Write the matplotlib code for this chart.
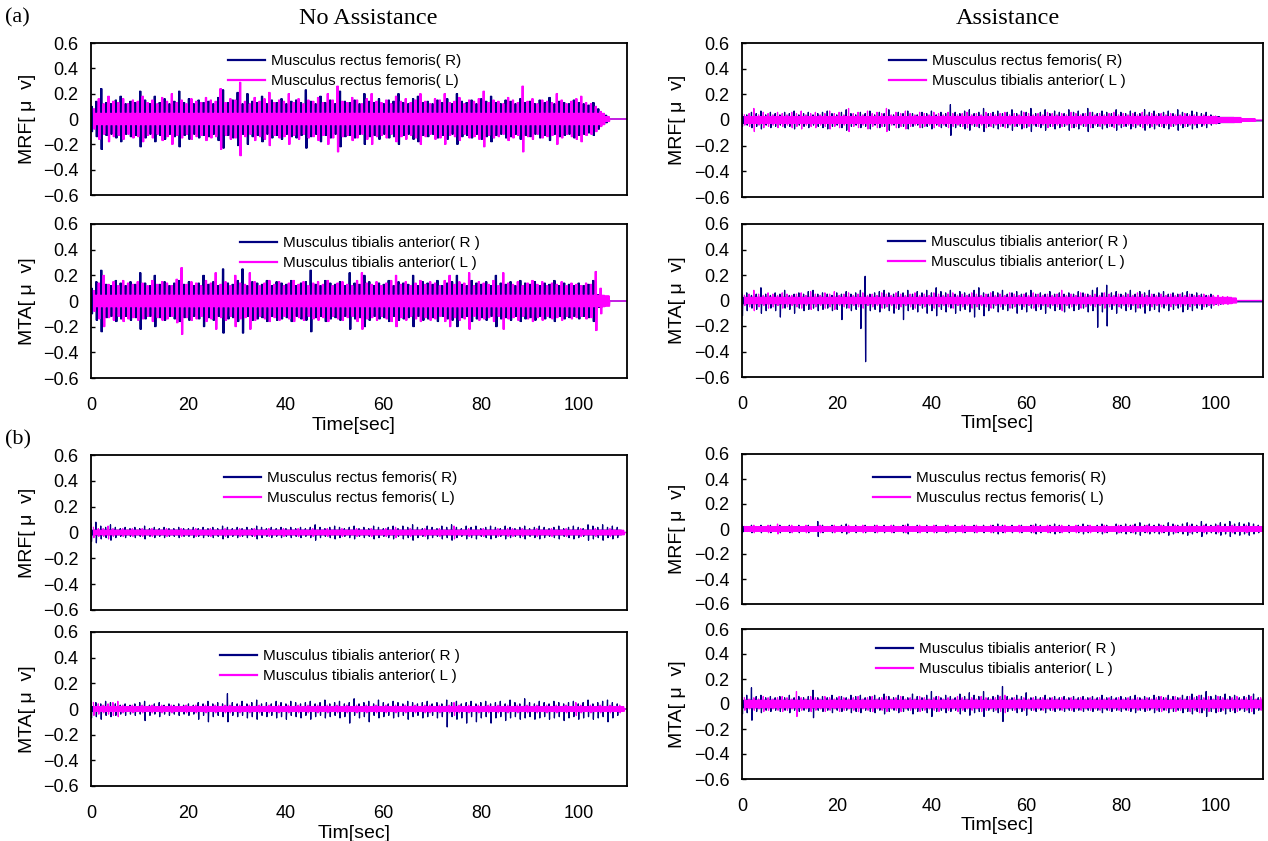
import numpy as np
import matplotlib
matplotlib.use("Agg")
import matplotlib.pyplot as plt
from matplotlib.lines import Line2D

plt.rcParams.update({
    "font.family": "sans-serif",
    "font.sans-serif": ["Liberation Sans", "DejaVu Sans"],
    "axes.linewidth": 1.3,
    "axes.unicode_minus": True,
})

W, H = 1268, 841
NAVY = "#000080"
MAGENTA = "#FF00FF"
T_MAX = 110

# ============ data: burst peak per second [uV] ============
# (a) No Assistance
mrf_r_noassist = [
    0.10, 0.14, 0.24, 0.13, 0.12, 0.15, 0.18, 0.12, 0.14, 0.13,
    0.22, 0.15, 0.12, 0.18, 0.13, 0.16, 0.12, 0.14, 0.22, 0.13,
    0.16, 0.12, 0.15, 0.13, 0.14, 0.12, 0.17, 0.23, 0.13, 0.15,
    0.21, 0.12, 0.20, 0.14, 0.13, 0.18, 0.12, 0.15, 0.13, 0.16,
    0.12, 0.14, 0.15, 0.13, 0.23, 0.14, 0.12, 0.18, 0.13, 0.15,
    0.12, 0.22, 0.14, 0.13, 0.15, 0.12, 0.20, 0.14, 0.13, 0.16,
    0.12, 0.15, 0.14, 0.20, 0.13, 0.12, 0.16, 0.18, 0.13, 0.14,
    0.12, 0.15, 0.13, 0.16, 0.12, 0.20, 0.14, 0.13, 0.15, 0.12,
    0.16, 0.14, 0.18, 0.13, 0.12, 0.15, 0.14, 0.12, 0.16, 0.13,
    0.14, 0.12, 0.15, 0.13, 0.17, 0.12, 0.14, 0.13, 0.12, 0.15,
    0.13, 0.12, 0.11, 0.13, 0.08, 0.03,
]
mrf_l_noassist = [
    0.08, 0.16, 0.12, 0.18, 0.14, 0.13, 0.16, 0.12, 0.15, 0.14,
    0.18, 0.13, 0.15, 0.12, 0.17, 0.14, 0.20, 0.13, 0.15, 0.12,
    0.16, 0.14, 0.13, 0.17, 0.15, 0.14, 0.24, 0.13, 0.16, 0.15,
    0.29, 0.14, 0.12, 0.17, 0.14, 0.16, 0.21, 0.13, 0.15, 0.14,
    0.20, 0.13, 0.16, 0.12, 0.15, 0.14, 0.17, 0.13, 0.20, 0.15,
    0.26, 0.14, 0.13, 0.17, 0.15, 0.12, 0.16, 0.20, 0.14, 0.13,
    0.15, 0.12, 0.18, 0.14, 0.16, 0.13, 0.15, 0.20, 0.14, 0.12,
    0.16, 0.15, 0.20, 0.13, 0.14, 0.17, 0.12, 0.15, 0.14, 0.16,
    0.22, 0.13, 0.15, 0.14, 0.12, 0.17, 0.15, 0.13, 0.26, 0.14,
    0.16, 0.12, 0.15, 0.14, 0.13, 0.20, 0.15, 0.12, 0.14, 0.16,
    0.18, 0.13, 0.12, 0.10, 0.06, 0.02,
]
mta_r_noassist = [
    0.10, 0.15, 0.24, 0.13, 0.12, 0.16, 0.14, 0.12, 0.15, 0.13,
    0.22, 0.14, 0.12, 0.20, 0.13, 0.15, 0.12, 0.14, 0.16, 0.13,
    0.15, 0.12, 0.14, 0.20, 0.13, 0.15, 0.12, 0.25, 0.14, 0.13,
    0.16, 0.25, 0.12, 0.15, 0.14, 0.13, 0.16, 0.12, 0.15, 0.14,
    0.13, 0.16, 0.12, 0.14, 0.15, 0.24, 0.13, 0.12, 0.16, 0.14,
    0.13, 0.15, 0.12, 0.22, 0.14, 0.13, 0.20, 0.15, 0.12, 0.14,
    0.13, 0.16, 0.12, 0.15, 0.14, 0.13, 0.20, 0.12, 0.15, 0.14,
    0.13, 0.16, 0.12, 0.14, 0.15, 0.20, 0.13, 0.12, 0.16, 0.14,
    0.13, 0.15, 0.12, 0.20, 0.14, 0.13, 0.15, 0.12, 0.16, 0.14,
    0.13, 0.15, 0.12, 0.14, 0.13, 0.16, 0.12, 0.14, 0.13, 0.12,
    0.14, 0.12, 0.13, 0.16, 0.05, 0.02,
]
mta_l_noassist = [
    0.08, 0.14, 0.20, 0.13, 0.15, 0.12, 0.16, 0.14, 0.13, 0.15,
    0.14, 0.12, 0.16, 0.13, 0.15, 0.14, 0.12, 0.17, 0.26, 0.13,
    0.15, 0.14, 0.12, 0.16, 0.14, 0.22, 0.13, 0.15, 0.12, 0.20,
    0.14, 0.13, 0.22, 0.15, 0.12, 0.14, 0.16, 0.13, 0.15, 0.12,
    0.14, 0.16, 0.13, 0.15, 0.12, 0.14, 0.15, 0.13, 0.16, 0.12,
    0.14, 0.15, 0.13, 0.12, 0.16, 0.22, 0.14, 0.13, 0.15, 0.12,
    0.14, 0.16, 0.20, 0.13, 0.15, 0.12, 0.14, 0.16, 0.13, 0.15,
    0.14, 0.12, 0.16, 0.20, 0.13, 0.15, 0.14, 0.22, 0.12, 0.15,
    0.14, 0.13, 0.16, 0.12, 0.22, 0.14, 0.13, 0.15, 0.12, 0.14,
    0.16, 0.13, 0.15, 0.12, 0.14, 0.13, 0.15, 0.12, 0.14, 0.13,
    0.12, 0.14, 0.13, 0.23, 0.10, 0.04,
]

# (a) Assistance
mrf_r_assist = [
    0.05, 0.04, 0.06, 0.05, 0.07, 0.04, 0.06, 0.05, 0.04, 0.06,
    0.05, 0.07, 0.04, 0.05, 0.06, 0.04, 0.05, 0.06, 0.07, 0.05,
    0.04, 0.06, 0.08, 0.05, 0.04, 0.06, 0.05, 0.07, 0.04, 0.06,
    0.05, 0.08, 0.04, 0.06, 0.05, 0.07, 0.05, 0.04, 0.06, 0.05,
    0.07, 0.04, 0.06, 0.05, 0.12, 0.06, 0.05, 0.07, 0.08, 0.05,
    0.06, 0.09, 0.05, 0.06, 0.07, 0.05, 0.06, 0.08, 0.05, 0.07,
    0.06, 0.09, 0.05, 0.06, 0.08, 0.05, 0.07, 0.06, 0.05, 0.08,
    0.06, 0.07, 0.05, 0.09, 0.06, 0.05, 0.07, 0.06, 0.05, 0.08,
    0.06, 0.05, 0.07, 0.06, 0.05, 0.08, 0.06, 0.07, 0.05, 0.06,
    0.07, 0.05, 0.08, 0.06, 0.05, 0.07, 0.06, 0.05, 0.06, 0.04,
    0.03, 0.02, 0.02, 0.02, 0.01, 0.01, 0.01, 0.01,
]
mrf_l_assist = [
    0.04, 0.05, 0.09, 0.04, 0.06, 0.05, 0.04, 0.06, 0.05, 0.04,
    0.06, 0.05, 0.07, 0.04, 0.05, 0.06, 0.04, 0.05, 0.07, 0.05,
    0.06, 0.04, 0.09, 0.05, 0.06, 0.04, 0.07, 0.05, 0.06, 0.05,
    0.09, 0.04, 0.06, 0.05, 0.07, 0.05, 0.04, 0.06, 0.05, 0.04,
    0.06, 0.05, 0.04, 0.06, 0.05, 0.04, 0.05, 0.06, 0.04, 0.05,
    0.04, 0.06, 0.05, 0.04, 0.05, 0.06, 0.04, 0.05, 0.04, 0.06,
    0.05, 0.04, 0.05, 0.04, 0.06, 0.05, 0.04, 0.05, 0.04, 0.06,
    0.05, 0.04, 0.05, 0.06, 0.04, 0.05, 0.04, 0.05, 0.06, 0.04,
    0.05, 0.04, 0.05, 0.04, 0.06, 0.04, 0.05, 0.04, 0.05, 0.04,
    0.05, 0.04, 0.04, 0.05, 0.04, 0.04, 0.03, 0.04, 0.03, 0.03,
    0.02, 0.02, 0.02, 0.02, 0.02, 0.01, 0.01, 0.01,
]
mta_r_assist_up = [
    0.05, 0.06, 0.04, 0.05, 0.10, 0.05, 0.04, 0.06, 0.05, 0.08,
    0.04, 0.05, 0.06, 0.05, 0.07, 0.08, 0.05, 0.06, 0.05, 0.04,
    0.06, 0.05, 0.07, 0.05, 0.06, 0.08, 0.19, 0.05, 0.06, 0.07,
    0.08, 0.06, 0.05, 0.07, 0.06, 0.08, 0.05, 0.07, 0.06, 0.08,
    0.06, 0.10, 0.07, 0.06, 0.08, 0.05, 0.07, 0.06, 0.05, 0.08,
    0.10, 0.06, 0.05, 0.07, 0.06, 0.08, 0.05, 0.06, 0.07, 0.05,
    0.06, 0.08, 0.05, 0.06, 0.05, 0.07, 0.05, 0.06, 0.05, 0.06,
    0.05, 0.07, 0.06, 0.05, 0.08, 0.10, 0.06, 0.12, 0.06, 0.07,
    0.05, 0.06, 0.08, 0.05, 0.07, 0.06, 0.08, 0.05, 0.06, 0.07,
    0.05, 0.06, 0.05, 0.06, 0.07, 0.05, 0.06, 0.05, 0.04, 0.05,
    0.02, 0.02,
]
mta_r_assist_dn = [
    0.12, 0.08, 0.06, 0.07, 0.10, 0.08, 0.06, 0.08, 0.13, 0.06,
    0.07, 0.10, 0.06, 0.08, 0.07, 0.06, 0.08, 0.07, 0.06, 0.08,
    0.07, 0.15, 0.06, 0.08, 0.07, 0.22, 0.48, 0.08, 0.07, 0.09,
    0.06, 0.08, 0.10, 0.07, 0.15, 0.08, 0.07, 0.09, 0.06, 0.10,
    0.08, 0.12, 0.07, 0.09, 0.06, 0.10, 0.08, 0.07, 0.09, 0.13,
    0.07, 0.12, 0.08, 0.06, 0.09, 0.07, 0.08, 0.06, 0.10, 0.07,
    0.09, 0.06, 0.08, 0.07, 0.10, 0.06, 0.08, 0.07, 0.09, 0.06,
    0.08, 0.07, 0.06, 0.09, 0.08, 0.21, 0.09, 0.20, 0.07, 0.10,
    0.06, 0.08, 0.07, 0.09, 0.06, 0.10, 0.08, 0.07, 0.09, 0.06,
    0.08, 0.07, 0.06, 0.09, 0.07, 0.08, 0.06, 0.07, 0.05, 0.06,
    0.03, 0.03,
]
mta_l_assist = [
    0.04, 0.05, 0.08, 0.05, 0.04, 0.06, 0.05, 0.04, 0.06, 0.05,
    0.04, 0.05, 0.06, 0.04, 0.07, 0.05, 0.04, 0.06, 0.05, 0.07,
    0.04, 0.05, 0.06, 0.04, 0.05, 0.06, 0.04, 0.05, 0.04, 0.06,
    0.05, 0.04, 0.06, 0.05, 0.04, 0.05, 0.06, 0.04, 0.05, 0.04,
    0.06, 0.05, 0.04, 0.05, 0.06, 0.04, 0.05, 0.04, 0.06, 0.05,
    0.04, 0.05, 0.06, 0.04, 0.05, 0.04, 0.06, 0.05, 0.04, 0.05,
    0.04, 0.06, 0.05, 0.04, 0.05, 0.04, 0.05, 0.08, 0.04, 0.05,
    0.04, 0.06, 0.05, 0.04, 0.05, 0.04, 0.06, 0.05, 0.04, 0.05,
    0.04, 0.05, 0.04, 0.06, 0.05, 0.04, 0.05, 0.04, 0.05, 0.04,
    0.05, 0.04, 0.05, 0.04, 0.05, 0.04, 0.04, 0.05, 0.04, 0.04,
    0.04, 0.03, 0.03, 0.02,
]

# (b) No Assistance
mrf_r_noassist_b = [
    0.07, 0.08, 0.05, 0.04, 0.06, 0.04, 0.03, 0.04, 0.03, 0.04,
    0.03, 0.05, 0.03, 0.04, 0.03, 0.04, 0.03, 0.03, 0.04, 0.03,
    0.03, 0.04, 0.03, 0.04, 0.03, 0.04, 0.03, 0.05, 0.04, 0.03,
    0.04, 0.03, 0.04, 0.03, 0.05, 0.04, 0.03, 0.04, 0.03, 0.04,
    0.03, 0.04, 0.03, 0.04, 0.03, 0.04, 0.06, 0.04, 0.03, 0.04,
    0.05, 0.04, 0.03, 0.04, 0.05, 0.03, 0.04, 0.03, 0.05, 0.04,
    0.03, 0.04, 0.05, 0.03, 0.05, 0.04, 0.06, 0.04, 0.03, 0.05,
    0.04, 0.03, 0.05, 0.04, 0.06, 0.04, 0.03, 0.05, 0.04, 0.05,
    0.03, 0.04, 0.05, 0.04, 0.03, 0.05, 0.04, 0.03, 0.04, 0.05,
    0.03, 0.04, 0.05, 0.04, 0.03, 0.04, 0.05, 0.03, 0.04, 0.05,
    0.04, 0.03, 0.06, 0.05, 0.04, 0.06, 0.04, 0.05, 0.04,
]
mrf_l_noassist_b = [
    0.04, 0.03, 0.03, 0.05, 0.03, 0.02, 0.03, 0.02, 0.03, 0.02,
    0.03, 0.02, 0.03, 0.02, 0.02, 0.03, 0.02, 0.02, 0.03, 0.02,
    0.02, 0.03, 0.02, 0.02, 0.03, 0.02, 0.02, 0.03, 0.02, 0.02,
    0.03, 0.02, 0.02, 0.03, 0.02, 0.02, 0.03, 0.02, 0.02, 0.03,
    0.02, 0.02, 0.03, 0.02, 0.02, 0.03, 0.02, 0.02, 0.03, 0.02,
    0.02, 0.03, 0.02, 0.02, 0.03, 0.02, 0.02, 0.03, 0.02, 0.02,
    0.03, 0.02, 0.04, 0.02, 0.02, 0.03, 0.02, 0.02, 0.03, 0.02,
    0.02, 0.03, 0.02, 0.02, 0.05, 0.02, 0.02, 0.03, 0.02, 0.02,
    0.03, 0.02, 0.02, 0.03, 0.02, 0.03, 0.03, 0.02, 0.03, 0.02,
    0.02, 0.03, 0.02, 0.02, 0.03, 0.02, 0.02, 0.03, 0.02, 0.02,
    0.03, 0.02, 0.02, 0.03, 0.02, 0.02, 0.03, 0.02, 0.02,
]
mta_r_noassist_b_up = [
    0.06, 0.05, 0.04, 0.06, 0.05, 0.04, 0.03, 0.04, 0.03, 0.04,
    0.05, 0.06, 0.03, 0.04, 0.05, 0.03, 0.04, 0.03, 0.04, 0.03,
    0.04, 0.03, 0.05, 0.04, 0.06, 0.04, 0.05, 0.04, 0.12, 0.05,
    0.04, 0.06, 0.04, 0.05, 0.07, 0.04, 0.05, 0.04, 0.06, 0.05,
    0.04, 0.06, 0.05, 0.04, 0.05, 0.06, 0.04, 0.05, 0.07, 0.04,
    0.05, 0.06, 0.04, 0.05, 0.08, 0.04, 0.05, 0.06, 0.04, 0.07,
    0.05, 0.04, 0.06, 0.05, 0.04, 0.06, 0.05, 0.04, 0.05, 0.06,
    0.04, 0.05, 0.04, 0.07, 0.05, 0.06, 0.04, 0.05, 0.06, 0.04,
    0.05, 0.06, 0.04, 0.05, 0.06, 0.04, 0.07, 0.05, 0.04, 0.08,
    0.05, 0.04, 0.06, 0.05, 0.04, 0.06, 0.05, 0.04, 0.05, 0.06,
    0.04, 0.05, 0.07, 0.04, 0.05, 0.06, 0.07, 0.05, 0.04,
]
mta_r_noassist_b_dn = [
    0.07, 0.06, 0.08, 0.05, 0.06, 0.05, 0.04, 0.05, 0.04, 0.05,
    0.04, 0.09, 0.05, 0.04, 0.06, 0.04, 0.05, 0.04, 0.05, 0.04,
    0.05, 0.04, 0.08, 0.05, 0.10, 0.06, 0.05, 0.06, 0.10, 0.05,
    0.06, 0.05, 0.07, 0.06, 0.08, 0.05, 0.06, 0.05, 0.07, 0.06,
    0.08, 0.05, 0.06, 0.07, 0.05, 0.08, 0.06, 0.05, 0.07, 0.06,
    0.05, 0.07, 0.06, 0.11, 0.05, 0.07, 0.06, 0.10, 0.05, 0.07,
    0.06, 0.05, 0.07, 0.06, 0.05, 0.08, 0.06, 0.05, 0.07, 0.06,
    0.05, 0.07, 0.06, 0.14, 0.06, 0.08, 0.07, 0.11, 0.06, 0.10,
    0.07, 0.06, 0.11, 0.07, 0.06, 0.09, 0.07, 0.06, 0.08, 0.07,
    0.06, 0.08, 0.07, 0.06, 0.08, 0.07, 0.06, 0.09, 0.07, 0.06,
    0.08, 0.07, 0.06, 0.08, 0.07, 0.06, 0.10, 0.07, 0.05,
]
mta_l_noassist_b = [
    0.05, 0.04, 0.03, 0.04, 0.05, 0.06, 0.03, 0.02, 0.03, 0.02,
    0.03, 0.02, 0.03, 0.02, 0.03, 0.02, 0.03, 0.02, 0.02, 0.03,
    0.02, 0.03, 0.02, 0.03, 0.02, 0.03, 0.02, 0.03, 0.03, 0.02,
    0.03, 0.02, 0.03, 0.02, 0.03, 0.02, 0.03, 0.02, 0.03, 0.02,
    0.03, 0.02, 0.03, 0.02, 0.03, 0.02, 0.03, 0.02, 0.03, 0.02,
    0.03, 0.02, 0.03, 0.02, 0.03, 0.02, 0.03, 0.02, 0.03, 0.02,
    0.03, 0.02, 0.03, 0.02, 0.03, 0.02, 0.03, 0.02, 0.03, 0.03,
    0.02, 0.03, 0.02, 0.03, 0.05, 0.03, 0.02, 0.03, 0.02, 0.03,
    0.02, 0.03, 0.02, 0.03, 0.02, 0.03, 0.02, 0.03, 0.02, 0.03,
    0.02, 0.03, 0.02, 0.03, 0.02, 0.03, 0.02, 0.03, 0.02, 0.05,
    0.03, 0.02, 0.03, 0.02, 0.03, 0.02, 0.03, 0.02, 0.03,
]

# (b) Assistance
mrf_r_assist_b = [
    0.03, 0.02, 0.03, 0.02, 0.03, 0.02, 0.03, 0.02, 0.03, 0.02,
    0.03, 0.02, 0.03, 0.02, 0.03, 0.02, 0.06, 0.03, 0.02, 0.03,
    0.02, 0.03, 0.04, 0.02, 0.03, 0.02, 0.03, 0.02, 0.03, 0.02,
    0.03, 0.02, 0.03, 0.02, 0.03, 0.04, 0.02, 0.03, 0.02, 0.03,
    0.02, 0.03, 0.02, 0.03, 0.02, 0.03, 0.02, 0.03, 0.02, 0.03,
    0.02, 0.03, 0.02, 0.03, 0.04, 0.03, 0.02, 0.03, 0.02, 0.03,
    0.02, 0.03, 0.04, 0.03, 0.02, 0.03, 0.04, 0.03, 0.02, 0.03,
    0.02, 0.03, 0.04, 0.03, 0.02, 0.03, 0.04, 0.03, 0.02, 0.04,
    0.03, 0.04, 0.03, 0.04, 0.05, 0.03, 0.04, 0.03, 0.04, 0.03,
    0.05, 0.04, 0.03, 0.04, 0.05, 0.04, 0.03, 0.06, 0.04, 0.03,
    0.04, 0.05, 0.04, 0.06, 0.04, 0.05, 0.04, 0.05, 0.04, 0.03,
]
mrf_l_assist_b = [
    0.02, 0.02, 0.03, 0.02, 0.02, 0.03, 0.02, 0.04, 0.02, 0.02,
    0.03, 0.02, 0.02, 0.03, 0.02, 0.02, 0.03, 0.02, 0.02, 0.03,
    0.02, 0.02, 0.03, 0.02, 0.02, 0.03, 0.02, 0.02, 0.03, 0.02,
    0.02, 0.03, 0.02, 0.02, 0.03, 0.02, 0.02, 0.03, 0.02, 0.02,
    0.03, 0.02, 0.02, 0.03, 0.02, 0.02, 0.03, 0.02, 0.02, 0.03,
    0.02, 0.02, 0.03, 0.02, 0.02, 0.03, 0.02, 0.02, 0.03, 0.02,
    0.02, 0.03, 0.02, 0.02, 0.03, 0.02, 0.02, 0.03, 0.02, 0.02,
    0.03, 0.02, 0.02, 0.03, 0.02, 0.02, 0.03, 0.02, 0.02, 0.03,
    0.02, 0.02, 0.03, 0.02, 0.02, 0.03, 0.02, 0.02, 0.03, 0.02,
    0.02, 0.03, 0.02, 0.02, 0.03, 0.02, 0.02, 0.03, 0.02, 0.02,
    0.03, 0.02, 0.02, 0.03, 0.02, 0.02, 0.03, 0.02, 0.02, 0.02,
]
mta_r_assist_b = [
    0.08, 0.07, 0.13, 0.06, 0.07, 0.05, 0.06, 0.05, 0.06, 0.05,
    0.07, 0.05, 0.06, 0.05, 0.06, 0.11, 0.05, 0.06, 0.05, 0.07,
    0.05, 0.06, 0.05, 0.07, 0.06, 0.07, 0.05, 0.06, 0.07, 0.05,
    0.08, 0.06, 0.05, 0.07, 0.06, 0.05, 0.08, 0.06, 0.05, 0.07,
    0.10, 0.06, 0.05, 0.07, 0.06, 0.05, 0.08, 0.06, 0.09, 0.07,
    0.06, 0.10, 0.05, 0.06, 0.07, 0.14, 0.06, 0.05, 0.07, 0.06,
    0.09, 0.05, 0.06, 0.05, 0.07, 0.05, 0.06, 0.05, 0.06, 0.05,
    0.06, 0.05, 0.06, 0.05, 0.06, 0.05, 0.07, 0.05, 0.06, 0.05,
    0.06, 0.05, 0.06, 0.07, 0.05, 0.06, 0.05, 0.07, 0.06, 0.05,
    0.07, 0.06, 0.05, 0.07, 0.06, 0.08, 0.06, 0.07, 0.10, 0.06,
    0.07, 0.06, 0.08, 0.06, 0.07, 0.05, 0.06, 0.07, 0.08, 0.05,
]
mta_l_assist_b = [
    0.05, 0.04, 0.05, 0.04, 0.06, 0.05, 0.04, 0.05, 0.06, 0.05,
    0.04, 0.10, 0.05, 0.04, 0.06, 0.05, 0.04, 0.06, 0.05, 0.04,
    0.06, 0.05, 0.04, 0.05, 0.06, 0.04, 0.05, 0.06, 0.04, 0.05,
    0.06, 0.04, 0.05, 0.06, 0.04, 0.05, 0.04, 0.06, 0.05, 0.04,
    0.05, 0.06, 0.04, 0.05, 0.04, 0.06, 0.05, 0.04, 0.05, 0.04,
    0.06, 0.05, 0.04, 0.05, 0.06, 0.07, 0.04, 0.05, 0.04, 0.05,
    0.04, 0.05, 0.04, 0.05, 0.04, 0.05, 0.04, 0.05, 0.04, 0.05,
    0.04, 0.05, 0.04, 0.05, 0.04, 0.05, 0.04, 0.05, 0.04, 0.05,
    0.04, 0.05, 0.04, 0.05, 0.04, 0.05, 0.04, 0.05, 0.06, 0.05,
    0.04, 0.06, 0.05, 0.04, 0.06, 0.05, 0.07, 0.05, 0.06, 0.04,
    0.06, 0.05, 0.04, 0.05, 0.06, 0.04, 0.05, 0.06, 0.04, 0.05,
]

# dense low-level band between bursts [uV]
CORE_A_NOASSIST = 0.045
CORE_A_ASSIST = 0.025
CORE_B = 0.018
CORE_B_TA = 0.03

Y_TICKS = [-0.6, -0.4, -0.2, 0, 0.2, 0.4, 0.6]
Y_TICKLABELS = ["\u22120.6", "\u22120.4", "\u22120.2", "0", "0.2", "0.4", "0.6"]
X_TICKS = [0, 20, 40, 60, 80, 100]


def emg_trace(peaks, core, neg=None, tail=0.0, swings=1, shift=0.0):
    """One burst per second (`swings` full-size swings), then the dense core band."""
    if neg is None:
        neg = peaks
    t, y = [], []
    for i, (p, n) in enumerate(zip(peaks, neg)):
        c = min(core, p, n)
        seq = [p, -n] * swings + [c, -c] * (5 - swings)
        for k, v in enumerate(seq):
            t.append(i + shift + k / len(seq))
            y.append(v)
    t += [len(peaks) + shift, T_MAX]
    y += [tail, tail]
    return t, y


def px_rect(x0, y0, x1, y1):
    return [x0 / W, 1 - y1 / H, (x1 - x0) / W, (y1 - y0) / H]


LBL_RF = ["Musculus rectus femoris( R)", "Musculus rectus femoris( L)"]
LBL_RF_TA = ["Musculus rectus femoris( R)", "Musculus tibialis anterior( L )"]
LBL_TA = ["Musculus tibialis anterior( R )", "Musculus tibialis anterior( L )"]
YL_MRF = "MRF[ \u03bc  v]"
YL_MTA = "MTA[ \u03bc  v]"

# rect (px), navy trace, magenta trace, labels, ylabel, xlabel, legend anchor (px)
panels = [
    ((91, 43, 627, 195),
     emg_trace(mrf_r_noassist, CORE_A_NOASSIST, swings=2),
     emg_trace(mrf_l_noassist, CORE_A_NOASSIST, swings=2, shift=0.5),
     LBL_RF, YL_MRF, None, (228, 54)),
    ((91, 224, 627, 378),
     emg_trace(mta_r_noassist, CORE_A_NOASSIST, swings=2),
     emg_trace(mta_l_noassist, CORE_A_NOASSIST, swings=2, shift=0.5),
     LBL_TA, YL_MTA, "Time[sec]", (240, 236)),
    ((742, 43, 1263, 197),
     emg_trace(mrf_r_assist, CORE_A_ASSIST, tail=-0.006),
     emg_trace(mrf_l_assist, CORE_A_ASSIST, shift=0.5),
     LBL_RF_TA, YL_MRF, None, (889, 54)),
    ((742, 224, 1263, 377),
     emg_trace(mta_r_assist_up, CORE_A_ASSIST, mta_r_assist_dn, tail=-0.01),
     emg_trace(mta_l_assist, CORE_A_ASSIST, shift=0.5),
     LBL_TA, YL_MTA, "Tim[sec]", (888, 235)),
    ((91, 455, 627, 610),
     emg_trace(mrf_r_noassist_b, CORE_B),
     emg_trace(mrf_l_noassist_b, CORE_B, shift=0.5),
     LBL_RF, YL_MRF, None, (224, 471)),
    ((91, 632, 627, 786),
     emg_trace(mta_r_noassist_b_up, CORE_B, mta_r_noassist_b_dn),
     emg_trace(mta_l_noassist_b, CORE_B, shift=0.5),
     LBL_TA, YL_MTA, "Tim[sec]", (220, 649)),
    ((742, 454, 1263, 604),
     emg_trace(mrf_r_assist_b, CORE_B),
     emg_trace(mrf_l_assist_b, CORE_B, shift=0.5),
     LBL_RF, YL_MRF, None, (873, 471)),
    ((742, 629, 1263, 779),
     emg_trace(mta_r_assist_b, CORE_B_TA),
     emg_trace(mta_l_assist_b, CORE_B_TA, shift=0.5),
     LBL_TA, YL_MTA, "Tim[sec]", (876, 642)),
]

# ============ figure ============
fig = plt.figure(figsize=(W / 100, H / 100), dpi=100)

for rect, (tr, yr), (tl, yl), labels, ylabel, xlabel, leg_xy in panels:
    ax = fig.add_axes(px_rect(*rect))
    ax.plot(tr, yr, color=NAVY, lw=0.9)
    ax.plot(tl, yl, color=MAGENTA, lw=0.9)

    ax.set_xlim(0, T_MAX)
    ax.set_ylim(-0.6, 0.6)
    ax.set_yticks(Y_TICKS)
    ax.set_yticklabels(Y_TICKLABELS)
    ax.set_xticks(X_TICKS)
    ax.tick_params(axis="y", direction="in", length=3, width=1, pad=9, labelsize=13)
    ax.tick_params(axis="x", length=0, pad=14, labelsize=13)

    h = rect[3] - rect[1]
    w = rect[2] - rect[0]
    if xlabel is None:
        ax.tick_params(axis="x", labelbottom=False)
    else:
        ax.set_xlabel(xlabel, fontsize=14, va="center")
        ax.xaxis.set_label_coords(0.49, -47 / h)

    ax.set_ylabel(ylabel, fontsize=14, va="center", ha="center")
    label_x = 28 if rect[0] < 400 else 678
    ax.yaxis.set_label_coords((label_x - rect[0]) / w, 0.5)

    handles = [Line2D([], [], color=NAVY, lw=1.6), Line2D([], [], color=MAGENTA, lw=1.6)]
    ax.legend(handles, labels, loc="upper left",
              bbox_to_anchor=(leg_xy[0] / W, 1 - leg_xy[1] / H),
              bbox_transform=fig.transFigure, frameon=False, fontsize=11,
              borderpad=0, borderaxespad=0, handlelength=2.4,
              handletextpad=0.4, labelspacing=0.4)

serif = ["Liberation Serif", "DejaVu Serif"]
fig.text(5 / W, 1 - 18 / H, "(a)", family=serif, fontsize=16, va="center", ha="left")
fig.text(5 / W, 1 - 440 / H, "(b)", family=serif, fontsize=16, va="center", ha="left")
fig.text(368 / W, 1 - 18 / H, "No Assistance", family=serif, fontsize=17.5, va="center", ha="center")
fig.text(1008 / W, 1 - 18 / H, "Assistance", family=serif, fontsize=17.5, va="center", ha="center")

fig.savefig("out.png", dpi=100)
plt.close()
